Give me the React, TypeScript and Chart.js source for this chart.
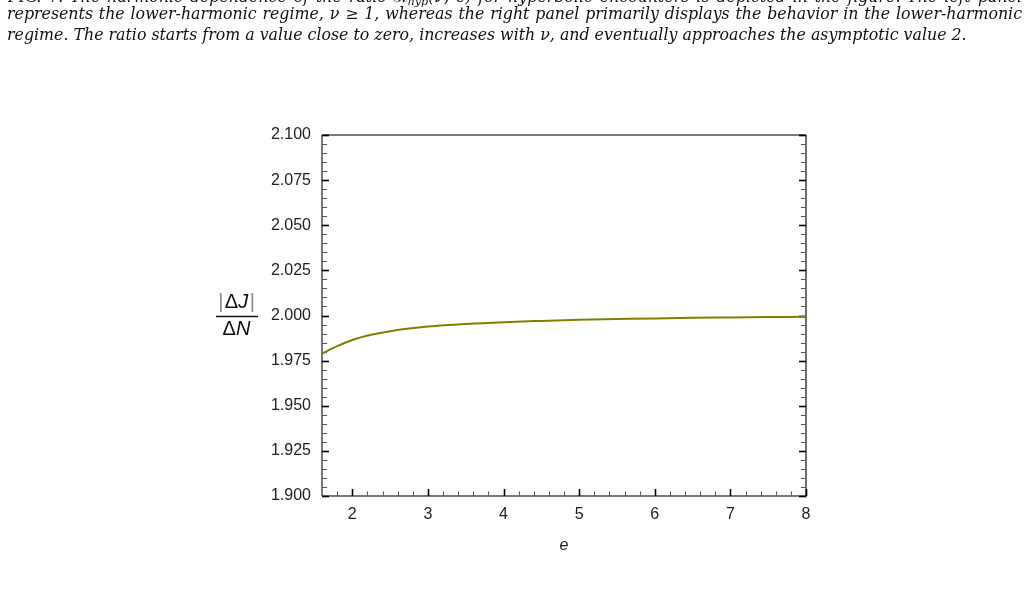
import React, { useEffect, useRef } from "react";
import { Chart, registerables } from "chart.js";

Chart.register(...registerables);

// ---- data ----
const eValues = [1.6, 1.8, 2.0, 2.25, 2.5, 2.75, 3.0, 3.5, 4.0, 4.5, 5.0, 5.5, 6.0, 6.5, 7.0, 7.5, 8.0];
const ratioValues = [1.9789, 1.983, 1.9864, 1.9893, 1.9913, 1.9928, 1.9939, 1.9953, 1.9963, 1.997, 1.9976, 1.998, 1.9984, 1.9987, 1.9989, 1.9991, 1.9993];
const xMajorTicks = [2, 3, 4, 5, 6, 7, 8];
const xMinorTicks = [1.8, 2.2, 2.4, 2.6, 2.8, 3.2, 3.4, 3.6, 3.8, 4.2, 4.4, 4.6, 4.8, 5.2, 5.4, 5.6, 5.8, 6.2, 6.4, 6.6, 6.8, 7.2, 7.4, 7.6, 7.8];
const yMajorTicks = [1.9, 1.925, 1.95, 1.975, 2.0, 2.025, 2.05, 2.075, 2.1];
const yMinorStep = 0.005;
const xRange = [1.6, 8];
const yRange = [1.9, 2.1];
const xTitle = "e";

const captionLine1a = "FIG. 7. The harmonic dependence of the ratio ℛ";
const captionLine1sub = "hyp";
const captionLine1b = "(ν, e) for hyperbolic encounters is depicted in the figure. The left panel";
const captionLine2 = "represents the lower-harmonic regime, ν ≥ 1, whereas the right panel primarily displays the behavior in the lower-harmonic";
const captionLine3 = "regime. The ratio starts from a value close to zero, increases with ν, and eventually approaches the asymptotic value 2.";

const axisGray = "#7a7a7a";

const framePlugin = {
  id: "frameTicks",
  beforeDatasetsDraw(chart: any) {
    const { ctx, chartArea: a, scales } = chart;
    const xs = scales.x;
    const ys = scales.y;
    ctx.save();
    ctx.lineCap = "butt";
    ctx.strokeStyle = axisGray;
    ctx.lineWidth = 2;
    ctx.beginPath();
    ctx.moveTo(a.left, a.top);
    ctx.lineTo(a.right, a.top);
    ctx.moveTo(a.left, a.top);
    ctx.lineTo(a.left, a.bottom);
    ctx.moveTo(a.left, a.bottom);
    ctx.lineTo(a.right, a.bottom);
    ctx.stroke();
    ctx.strokeStyle = "#222";
    ctx.lineWidth = 1.3;
    ctx.beginPath();
    ctx.moveTo(a.right, a.top);
    ctx.lineTo(a.right, a.bottom + 1);
    ctx.stroke();

    const tick = (x1: number, y1: number, x2: number, y2: number, major: boolean) => {
      ctx.strokeStyle = major ? "#000" : "#555";
      ctx.lineWidth = major ? 1.6 : 1;
      ctx.beginPath();
      ctx.moveTo(x1, y1);
      ctx.lineTo(x2, y2);
      ctx.stroke();
    };
    const nY = Math.round((yRange[1] - yRange[0]) / yMinorStep);
    for (let i = 0; i <= nY; i++) {
      const v = yRange[0] + i * yMinorStep;
      const major = yMajorTicks.some((m) => Math.abs(m - v) < 1e-6);
      const py = Math.round(ys.getPixelForValue(v)) + 0.5;
      const len = major ? 7 : 5;
      tick(a.left, py, a.left + len, py, major);
      tick(a.right, py, a.right - len, py, major);
    }
    xMajorTicks.forEach((v) => {
      const px = Math.round(xs.getPixelForValue(v)) + 0.5;
      tick(px, a.bottom, px, a.bottom - 7, true);
    });
    xMinorTicks.forEach((v) => {
      const px = Math.round(xs.getPixelForValue(v)) + 0.5;
      tick(px, a.bottom, px, a.bottom - 4.5, false);
    });
    ctx.restore();
  },
  afterDraw(chart: any) {
    const { ctx } = chart;
    ctx.save();
    ctx.textBaseline = "alphabetic";
    const cx = 236.5;
    const up = "20px 'Liberation Sans', Arial, sans-serif";
    const it = "italic 20px 'Liberation Sans', Arial, sans-serif";
    ctx.font = up;
    const wBar = ctx.measureText("|").width;
    const wD = ctx.measureText("Δ").width;
    ctx.font = it;
    const wJ = ctx.measureText("J").width;
    const gap = 1.5;
    const total = wBar * 2 + wD + wJ + gap * 2;
    const x = cx - total / 2;
    ctx.fillStyle = "#888";
    ctx.font = up;
    ctx.fillText("|", x, 308);
    ctx.fillText("|", x + wBar + gap + wD + wJ + gap, 308);
    ctx.fillStyle = "#111";
    ctx.fillText("Δ", x + wBar + gap, 308);
    ctx.font = it;
    ctx.fillText("J", x + wBar + gap + wD, 308);
    ctx.strokeStyle = "#111";
    ctx.lineWidth = 1.3;
    ctx.beginPath();
    ctx.moveTo(216, 316.5);
    ctx.lineTo(258, 316.5);
    ctx.stroke();
    ctx.font = up;
    const wD2 = ctx.measureText("Δ").width;
    ctx.font = it;
    const wN = ctx.measureText("N").width;
    const x2 = cx - (wD2 + wN) / 2;
    ctx.font = up;
    ctx.fillText("Δ", x2, 335);
    ctx.font = it;
    ctx.fillText("N", x2 + wD2, 335);
    ctx.restore();
  },
};

export default function App() {
  const ref = useRef<HTMLCanvasElement | null>(null);

  useEffect(() => {
    if (!ref.current) return;
    const chart = new Chart(ref.current, {
      type: "line",
      data: {
        datasets: [
          {
            data: eValues.map((e, i) => ({ x: e, y: ratioValues[i] })),
            borderColor: "#808000",
            borderWidth: 2,
            pointRadius: 0,
            fill: false,
            cubicInterpolationMode: "monotone",
          },
        ],
      },
      options: {
        animation: false,
        responsive: false,
        devicePixelRatio: 1,
        layout: { padding: { top: 135, right: 222, bottom: 0, left: 0 } },
        plugins: { legend: { display: false }, tooltip: { enabled: false } },
        scales: {
          x: {
            type: "linear",
            min: xRange[0],
            max: xRange[1],
            afterBuildTicks: (s: any) => {
              s.ticks = xMajorTicks.map((v) => ({ value: v }));
            },
            afterFit: (s: any) => {
              s.height = 94;
            },
            ticks: {
              padding: 9,
              color: "#222",
              font: { family: "'Liberation Sans', Arial, sans-serif", size: 16 },
              callback: (v: any) => String(v),
            },
            grid: { drawOnChartArea: false, drawTicks: false },
            border: { display: false },
            title: {
              display: true,
              text: xTitle,
              color: "#222",
              font: { family: "'Liberation Sans', Arial, sans-serif", size: 16, style: "italic" },
              padding: { top: 0, bottom: 35 },
            },
          },
          y: {
            type: "linear",
            min: yRange[0],
            max: yRange[1],
            afterBuildTicks: (s: any) => {
              s.ticks = yMajorTicks.map((v) => ({ value: v }));
            },
            afterFit: (s: any) => {
              s.width = 322;
            },
            ticks: {
              padding: 11,
              color: "#222",
              font: { family: "'Liberation Sans', Arial, sans-serif", size: 16 },
              callback: (v: any) => Number(v).toFixed(3),
            },
            grid: { drawOnChartArea: false, drawTicks: false },
            border: { display: false },
          },
        },
      },
      plugins: [framePlugin],
    } as any);
    return () => chart.destroy();
  }, []);

  const lineStyle: React.CSSProperties = {
    position: "absolute",
    left: 7,
    width: 1015,
    whiteSpace: "nowrap",
    fontFamily: "'DejaVu Serif', serif",
    fontStyle: "italic",
    fontSize: 15.8,
    lineHeight: "20px",
    color: "#111",
  };
  const justify: React.CSSProperties = {
    whiteSpace: "normal",
    textAlign: "justify",
    textAlignLast: "justify" as any,
    height: 20,
    overflow: "hidden",
  };

  return (
    <div
      style={{
        position: "fixed",
        left: 0,
        top: 0,
        width: 1028,
        height: 590,
        overflow: "hidden",
        background: "#fff",
      }}
    >
      <canvas ref={ref} width={1028} height={590} style={{ position: "absolute", left: 0, top: 0, width: 1028, height: 590 }} />
      <div style={{ ...lineStyle, ...justify, top: -13 }}>
        <span style={{ fontStyle: "normal" }}>{captionLine1a.slice(0, 7)}</span>
        {captionLine1a.slice(7)}
        <sub style={{ fontSize: "0.7em", verticalAlign: "-0.25em", lineHeight: 0 }}>{captionLine1sub}</sub>
        {captionLine1b}
      </div>
      <div style={{ ...lineStyle, ...justify, top: 3.6 }}>{captionLine2}</div>
      <div style={{ ...lineStyle, top: 24.6 }}>{captionLine3}</div>
    </div>
  );
}
